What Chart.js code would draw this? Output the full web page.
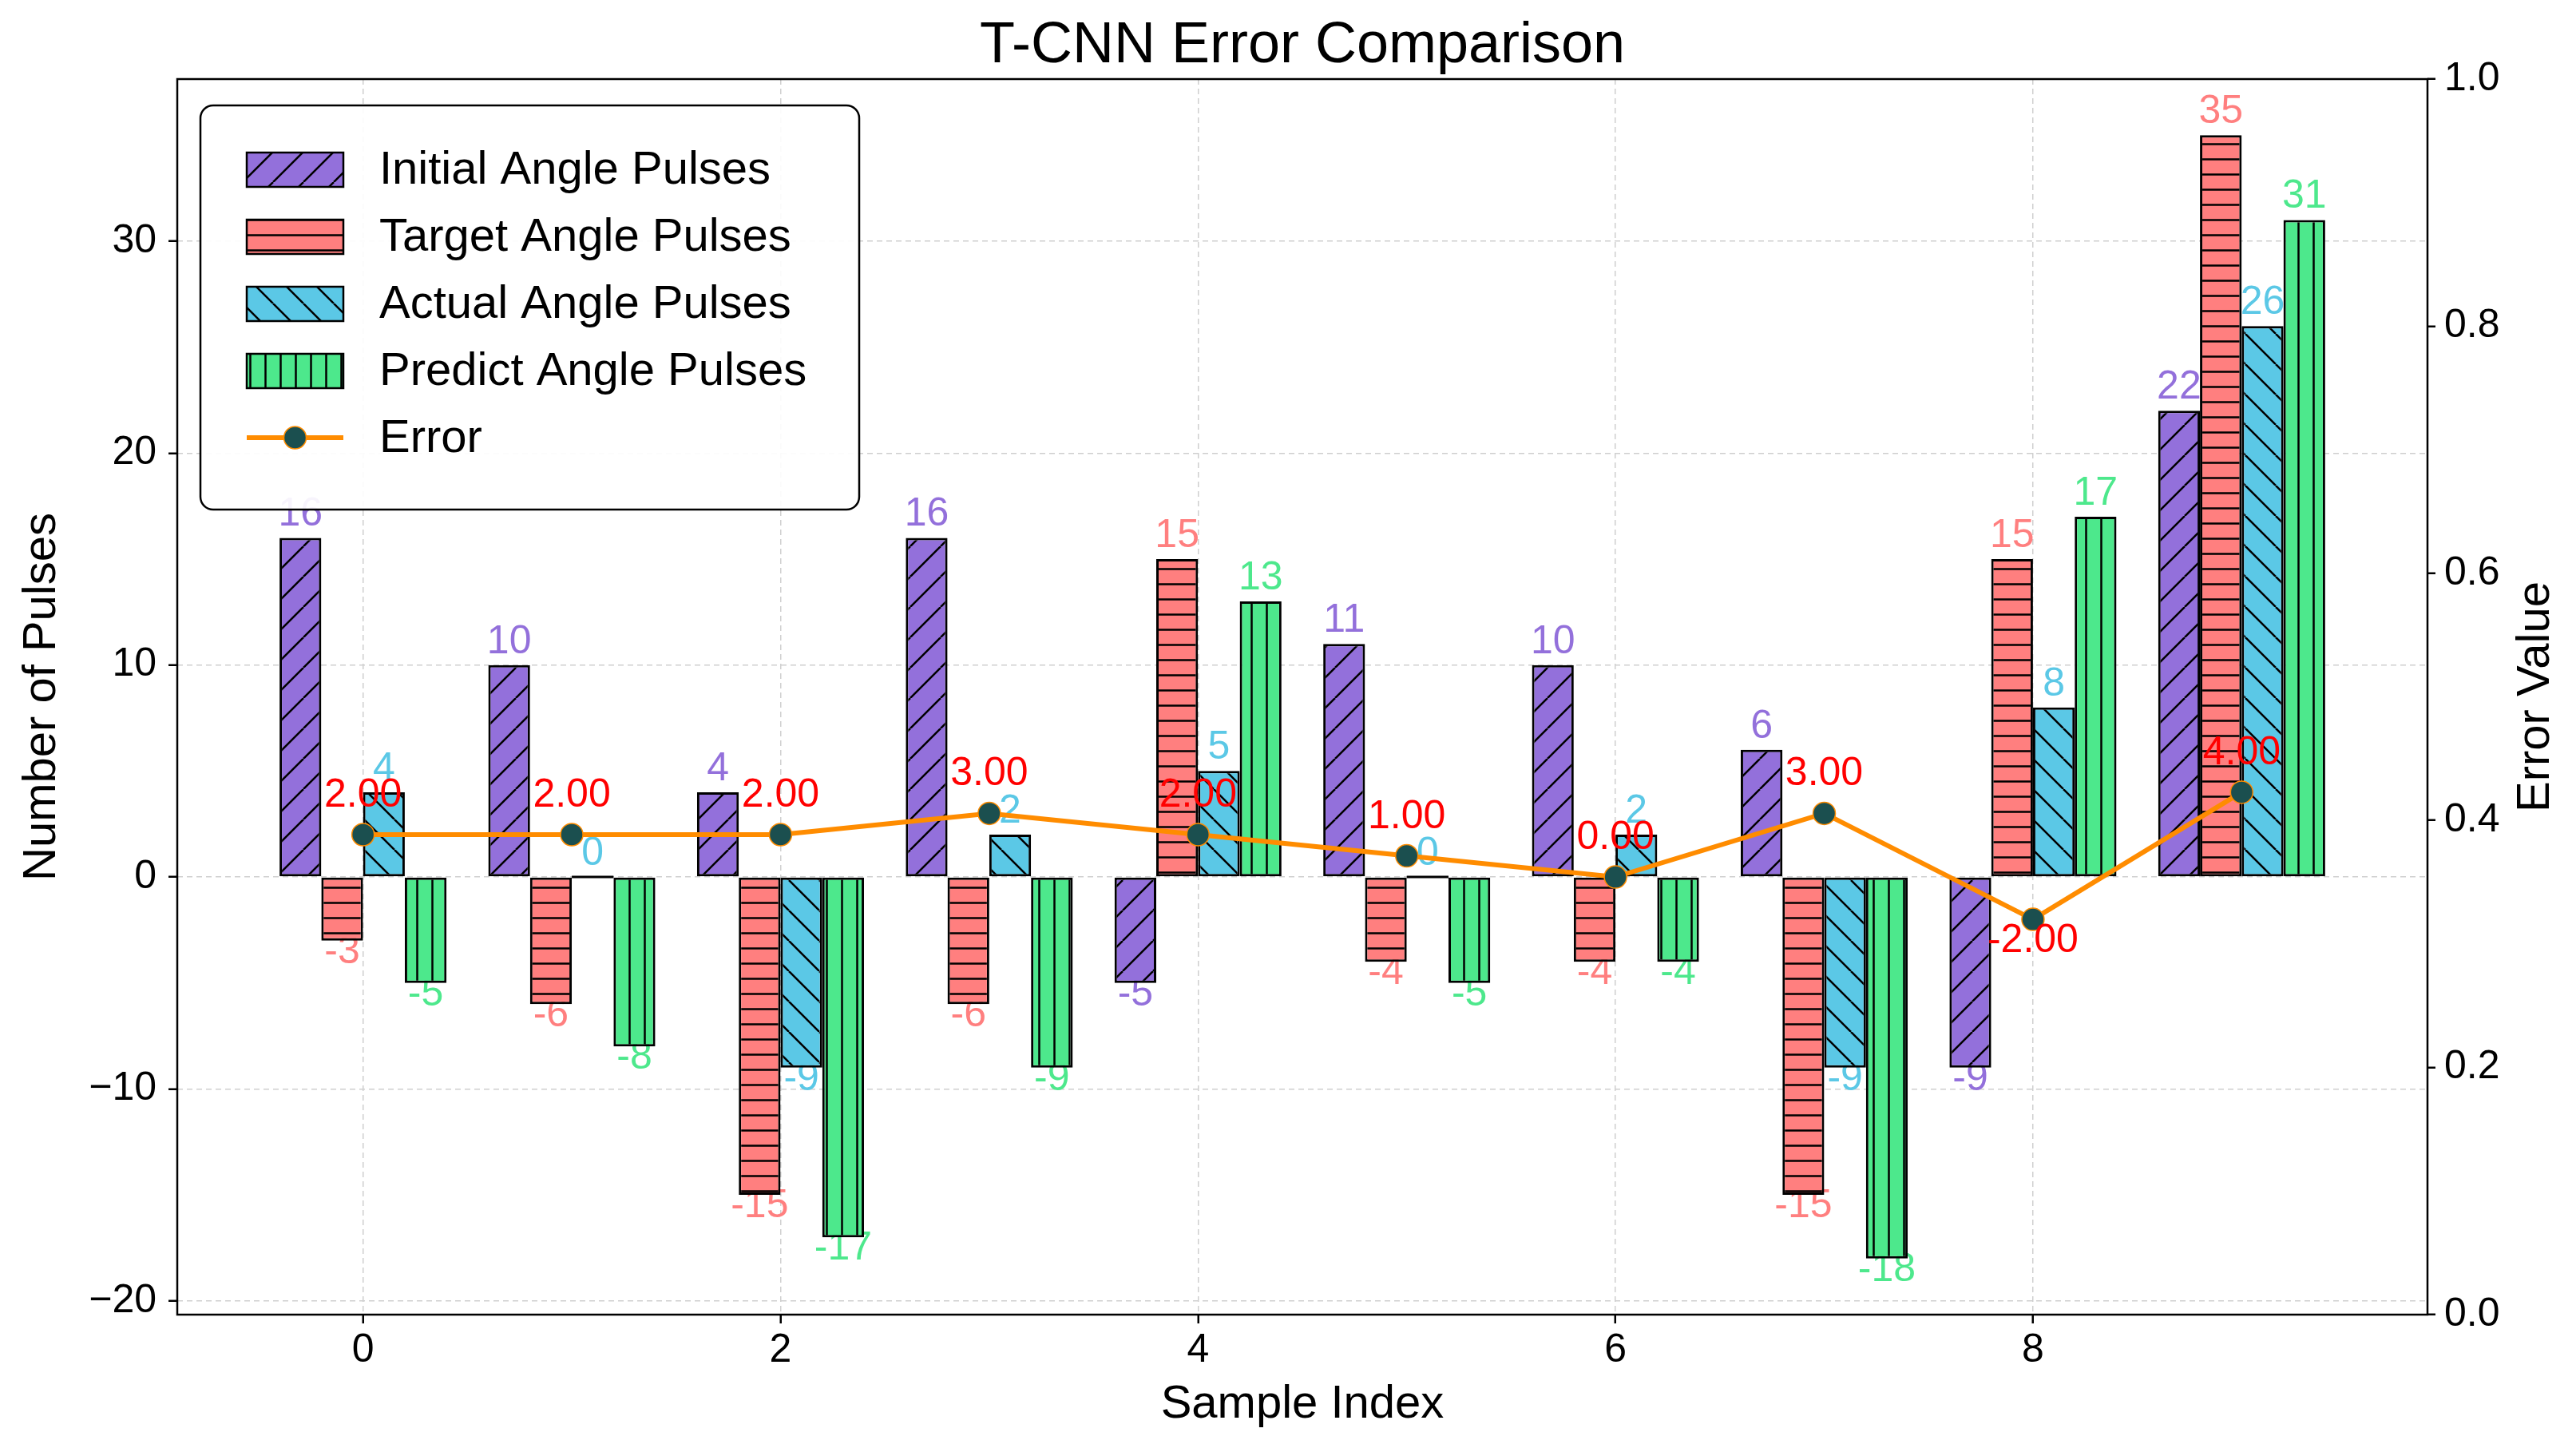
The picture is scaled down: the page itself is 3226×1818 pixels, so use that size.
<!DOCTYPE html>
<html>
<head>
<meta charset="utf-8">
<title>T-CNN Error Comparison</title>
<script src="https://cdn.jsdelivr.net/npm/chart.js@4.4.0/dist/chart.umd.min.js"></script>
<style>
  html, body { margin: 0; padding: 0; background: #ffffff; }
  canvas { display: block; }
</style>
</head>
<body>
<canvas id="grafico" width="3226" height="1818"></canvas>
<script>
// Datos
const muestras = [0, 1, 2, 3, 4, 5, 6, 7, 8, 9];
const initialPulses = [16, 10, 4, 16, -5, 11, 10, 6, -9, 22];
const targetPulses = [-3, -6, -15, -6, 15, -4, -4, -15, 15, 35];
const actualPulses = [4, 0, -9, 2, 5, 0, 2, -9, 8, 26];
const predictPulses = [-5, -8, -17, -9, 13, -5, -4, -18, 17, 31];
const errorValues = [2, 2, 2, 3, 2, 1, 0, 3, -2, 4];

const xTicks = [0, 2, 4, 6, 8];
const yTicks = [-20, -10, 0, 10, 20, 30];
const y2Ticks = [0, 0.2, 0.4, 0.6, 0.8, 1.0];

const FUENTE = '"Liberation Sans", Arial, Helvetica, sans-serif';
Chart.defaults.font.family = FUENTE;
Chart.defaults.color = "#000";

const ctxMain = document.getElementById("grafico").getContext("2d");

// tramas tipo matplotlib (hatch)
function crearPatron(color, tipo) {
    const s = (tipo === "diag" || tipo === "anti") ? 38 : 19;
    const c = document.createElement("canvas");
    c.width = s;
    c.height = s;
    const g = c.getContext("2d");
    g.fillStyle = color;
    g.fillRect(0, 0, s, s);
    g.strokeStyle = "#000";
    g.lineWidth = 2.5;
    g.beginPath();
    if (tipo === "diag") {
        for (let k = -1; k <= 1; k++) { g.moveTo(k * s, s); g.lineTo(k * s + s, 0); }
    } else if (tipo === "anti") {
        for (let k = -1; k <= 1; k++) { g.moveTo(k * s, 0); g.lineTo(k * s + s, s); }
    } else if (tipo === "horiz") {
        g.moveTo(0, s / 2); g.lineTo(s, s / 2);
    } else {
        g.moveTo(s / 2, 0); g.lineTo(s / 2, s);
    }
    g.stroke();
    return ctxMain.createPattern(c, "repeat");
}

const series = [
    { nombre: "Initial Angle Pulses", valores: initialPulses, color: "#9370DB", trama: "diag" },
    { nombre: "Target Angle Pulses", valores: targetPulses, color: "#FF7F7F", trama: "horiz" },
    { nombre: "Actual Angle Pulses", valores: actualPulses, color: "#5BC8E6", trama: "anti" },
    { nombre: "Predict Angle Pulses", valores: predictPulses, color: "#4DE88C", trama: "vert" }
];
series.forEach((s) => { s.patron = crearPatron(s.color, s.trama); });

const COLOR_LINEA = "#FF8C00";
const COLOR_MARCA = "#1b4f4f";

function puntos(valores) {
    return muestras.map((x, i) => ({ x: x, y: valores[i] }));
}

const datasets = [
    {
        type: "line",
        label: "Error",
        data: puntos(errorValues),
        yAxisID: "y",
        borderColor: COLOR_LINEA,
        borderWidth: 6,
        pointRadius: 14,
        pointBackgroundColor: COLOR_MARCA,
        pointBorderColor: COLOR_LINEA,
        pointBorderWidth: 1.5,
        tension: 0,
        fill: false
    }
];
series.forEach((s) => {
    datasets.push({
        type: "bar",
        label: s.nombre,
        data: puntos(s.valores),
        yAxisID: "y",
        backgroundColor: s.patron,
        borderColor: "#000",
        borderWidth: 3,
        borderSkipped: false,
        categoryPercentage: 0.8,
        barPercentage: 1.0
    });
});

// etiquetas de valor debajo de las barras (como en el original)
const etiquetasBarras = {
    id: "etiquetasBarras",
    beforeDatasetsDraw(chart) {
        const ctx = chart.ctx;
        ctx.save();
        ctx.font = "50px " + FUENTE;
        ctx.textAlign = "center";
        ctx.textBaseline = "alphabetic";
        series.forEach((s, k) => {
            const meta = chart.getDatasetMeta(k + 1);
            ctx.fillStyle = s.color;
            meta.data.forEach((bar, j) => {
                const v = s.valores[j];
                if (v >= 0) {
                    ctx.fillText(String(v), bar.x, bar.y - 15);
                } else {
                    ctx.fillText(String(v), bar.x, bar.y + 28);
                }
            });
        });
        ctx.restore();
    },
    afterDatasetsDraw(chart) {
        const ctx = chart.ctx;
        ctx.save();
        // barras de altura cero: solo el borde
        ctx.strokeStyle = "#000";
        ctx.lineWidth = 3;
        series.forEach((s, k) => {
            const meta = chart.getDatasetMeta(k + 1);
            meta.data.forEach((bar) => {
                if (Math.abs(bar.base - bar.y) < 1) {
                    ctx.beginPath();
                    ctx.moveTo(bar.x - bar.width / 2, bar.y);
                    ctx.lineTo(bar.x + bar.width / 2, bar.y);
                    ctx.stroke();
                }
            });
        });
        // etiquetas del error
        ctx.font = "50px " + FUENTE;
        ctx.textAlign = "center";
        ctx.textBaseline = "alphabetic";
        ctx.fillStyle = "#FF0000";
        const metaErr = chart.getDatasetMeta(0);
        metaErr.data.forEach((p, j) => {
            const v = errorValues[j];
            if (v >= 0) {
                ctx.fillText(v.toFixed(2), p.x, p.y - 35);
            } else {
                ctx.fillText(v.toFixed(2), p.x, p.y + 41);
            }
        });
        ctx.restore();
    }
};

// titulo, marco, titulo del eje derecho y leyenda
const marcoLeyenda = {
    id: "marcoLeyenda",
    afterDraw(chart) {
        const ctx = chart.ctx;
        const area = chart.chartArea;
        ctx.save();

        // titulo centrado sobre el area de ejes (como matplotlib)
        ctx.font = "72px " + FUENTE;
        ctx.fillStyle = "#000";
        ctx.textAlign = "center";
        ctx.textBaseline = "middle";
        ctx.fillText("T-CNN Error Comparison", (area.left + area.right) / 2, 58);

        ctx.strokeStyle = "#000";
        ctx.lineWidth = 2.5;
        ctx.strokeRect(area.left, area.top, area.right - area.left, area.bottom - area.top);

        // "Error Value" girado como en matplotlib
        ctx.save();
        ctx.translate(3176, (area.top + area.bottom) / 2);
        ctx.rotate(-Math.PI / 2);
        ctx.font = "58px " + FUENTE;
        ctx.fillStyle = "#000";
        ctx.textAlign = "center";
        ctx.textBaseline = "middle";
        ctx.fillText("Error Value", 0, 0);
        ctx.restore();

        // leyenda
        const lx = area.left + 29;
        const ly = area.top + 33;
        const lw = 825;
        const lh = 506;
        const r = 16;
        ctx.beginPath();
        ctx.moveTo(lx + r, ly);
        ctx.arcTo(lx + lw, ly, lx + lw, ly + lh, r);
        ctx.arcTo(lx + lw, ly + lh, lx, ly + lh, r);
        ctx.arcTo(lx, ly + lh, lx, ly, r);
        ctx.arcTo(lx, ly, lx + lw, ly, r);
        ctx.closePath();
        ctx.fillStyle = "rgba(255,255,255,0.92)";
        ctx.fill();
        ctx.lineWidth = 2.5;
        ctx.strokeStyle = "#000";
        ctx.stroke();

        ctx.font = "58px " + FUENTE;
        ctx.textAlign = "left";
        ctx.textBaseline = "middle";
        const filas = series.map((s) => s.nombre).concat(["Error"]);
        filas.forEach((nombre, i) => {
            const cy = ly + 80 + 84 * i;
            const sx = lx + 58;
            if (i < series.length) {
                ctx.fillStyle = series[i].patron;
                ctx.fillRect(sx, cy - 21, 121, 43);
                ctx.lineWidth = 2.5;
                ctx.strokeStyle = "#000";
                ctx.strokeRect(sx, cy - 21, 121, 43);
            } else {
                ctx.strokeStyle = COLOR_LINEA;
                ctx.lineWidth = 6;
                ctx.beginPath();
                ctx.moveTo(sx, cy);
                ctx.lineTo(sx + 121, cy);
                ctx.stroke();
                ctx.beginPath();
                ctx.arc(sx + 60.5, cy, 14, 0, Math.PI * 2);
                ctx.fillStyle = COLOR_MARCA;
                ctx.fill();
                ctx.lineWidth = 1.5;
                ctx.stroke();
            }
            ctx.fillStyle = "#000";
            ctx.fillText(nombre, lx + 224, cy + 2);
        });
        ctx.restore();
    }
};

const gridComun = {
    color: "#cfcfcf",
    lineWidth: 1.5,
    drawTicks: true,
    tickColor: "#000",
    tickWidth: 2.5,
    tickBorderDash: [],
    offset: false
};

new Chart(ctxMain, {
    data: { datasets: datasets },
    options: {
        responsive: false,
        devicePixelRatio: 1,
        animation: false,
        layout: { padding: { top: 99, left: 0, right: 0, bottom: 0 } },
        plugins: {
            legend: { display: false },
            tooltip: { enabled: false },
            title: { display: false }
        },
        scales: {
            x: {
                type: "linear",
                position: "bottom",
                offset: false,
                min: -0.89,
                max: 9.89,
                afterBuildTicks: (s) => { s.ticks = xTicks.map((v) => ({ value: v })); },
                afterFit: (s) => { s.height = 172; },
                ticks: { font: { size: 50 }, color: "#000", padding: 4, maxRotation: 0 },
                grid: Object.assign({}, gridComun, { tickLength: 11 }),
                border: { display: false, dash: [7, 5] },
                title: {
                    display: true,
                    text: "Sample Index",
                    color: "#000",
                    font: { size: 58 },
                    padding: { top: 0, bottom: 24 }
                }
            },
            y: {
                type: "linear",
                position: "left",
                offset: false,
                min: -20.65,
                max: 37.65,
                afterBuildTicks: (s) => { s.ticks = yTicks.map((v) => ({ value: v })); },
                afterFit: (s) => { s.width = 222; },
                ticks: {
                    font: { size: 50 },
                    color: "#000",
                    padding: 15,
                    callback: (v) => (v < 0 ? "\u2212" + Math.abs(v) : String(v))
                },
                grid: Object.assign({}, gridComun, { tickLength: 11 }),
                border: { display: false, dash: [7, 5] },
                title: {
                    display: true,
                    text: "Number of Pulses",
                    color: "#000",
                    font: { size: 58 },
                    padding: { top: 18, bottom: 0 }
                }
            },
            y2: {
                type: "linear",
                position: "right",
                offset: false,
                min: 0,
                max: 1,
                afterBuildTicks: (s) => { s.ticks = y2Ticks.map((v) => ({ value: v })); },
                afterFit: (s) => { s.width = 186; },
                ticks: {
                    font: { size: 50 },
                    color: "#000",
                    padding: 11,
                    callback: (v) => Number(v).toFixed(1)
                },
                grid: Object.assign({}, gridComun, { drawOnChartArea: false, tickLength: 10 }),
                border: { display: false }
            }
        }
    },
    plugins: [etiquetasBarras, marcoLeyenda]
});
</script>
</body>
</html>
